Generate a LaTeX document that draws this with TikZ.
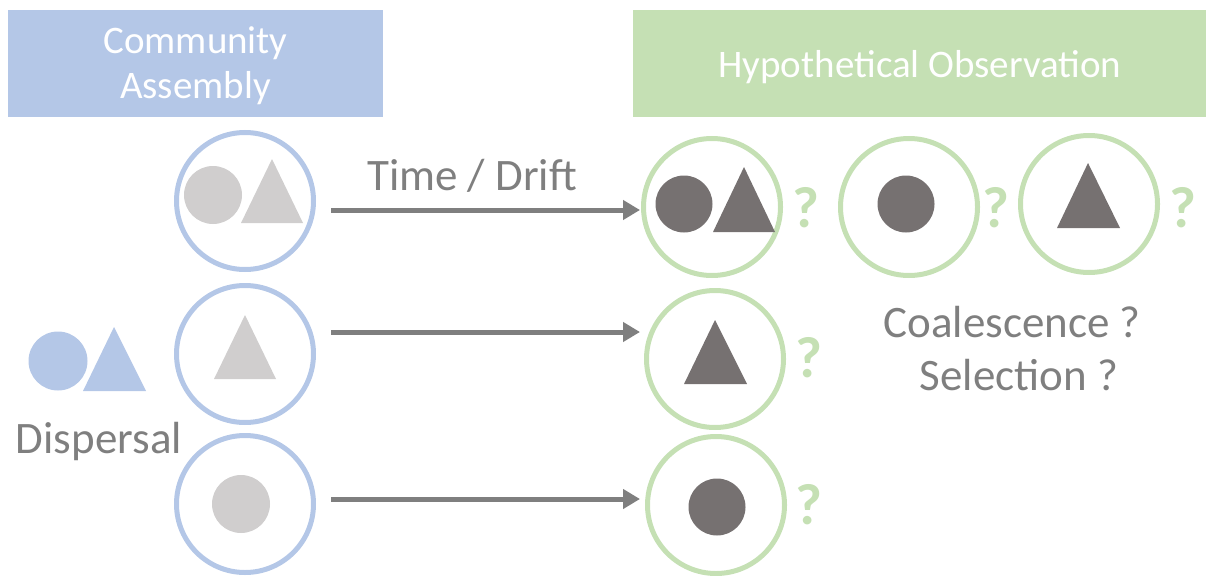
\documentclass[tikz,border=0pt]{standalone}
\usepackage{fontspec}
\setmainfont{Carlito}
\usetikzlibrary{arrows.meta}
\definecolor{cablue}{HTML}{B4C7E7}
\definecolor{cagreen}{HTML}{C5E0B4}
\definecolor{lgray}{HTML}{D0CECE}
\definecolor{dgray}{HTML}{767171}
\definecolor{tgray}{HTML}{7F7F7F}
\begin{document}
\begin{tikzpicture}[x=1pt,y=-1pt,
  bluering/.style={circle,draw=cablue,line width=5pt,minimum size=137pt,inner sep=0pt},
  greenring/.style={circle,draw=cagreen,line width=5pt,minimum size=137pt,inner sep=0pt},
  hbox/.style={minimum height=107pt,inner sep=0pt},
  header/.style={text=white,font=\fontsize{39}{45}\selectfont,align=center,inner sep=0pt},
  lbl/.style={text=tgray,font=\fontsize{45}{53}\selectfont,inner sep=0pt,anchor=base},
  qmark/.style={text=cagreen,font=\bfseries\fontsize{58}{58}\selectfont,inner sep=0pt},
  arr/.style={draw=tgray,line width=5pt,-{Triangle[length=17pt,width=19pt]}}
]
\useasboundingbox (0,0) rectangle (1206,575);

% header boxes
\node (hA) [hbox,fill=cablue,minimum width=375pt] at (195.5,63.5) {};
\node (hB) [hbox,fill=cagreen,minimum width=573pt] at (919.5,63.5) {};
\node (hAt) [header] at (195.5,66) {Community\\Assembly};
\node (hBt) [header,anchor=base] at (920,78) {Hypothetical Observation};

% community assembly rings
\node (b1) [bluering] at (245,201) {};
\node (b2) [bluering] at (245,354) {};
\node (b3) [bluering] at (245,504) {};

% observation rings
\node (g1) [greenring] at (712,207) {};
\node (g2) [greenring] at (909,207) {};
\node (g3) [greenring] at (1089,204) {};
\node (g4) [greenring] at (715,359) {};
\node (g5) [greenring] at (716,505) {};

% light shapes
\fill[lgray] (213,195) circle (29pt);
\fill[lgray] (241,223) -- (303,223) -- (272,159) -- cycle;
\fill[lgray] (214,379) -- (276,379) -- (245,315) -- cycle;
\fill[lgray] (241,504) circle (29pt);

% dispersal shapes
\fill[cablue] (58,361) circle (29.5pt);
\fill[cablue] (83,391) -- (146,391) -- (114,327) -- cycle;
\node (disp) [lbl] at (99,453) {Dispersal};

% dark shapes
\fill[dgray] (684,204) circle (28.5pt);
\fill[dgray] (713,232) -- (775,232) -- (744,167) -- cycle;
\fill[dgray] (906,204) circle (28.5pt);
\fill[dgray] (1057,228) -- (1120,228) -- (1088,163) -- cycle;
\fill[dgray] (684,384) -- (747,384) -- (715,320) -- cycle;
\fill[dgray] (717,507) circle (28.5pt);

% question marks
\node (q1) [qmark] at (806,208) {?};
\node (q2) [qmark] at (996,208) {?};
\node (q3) [qmark] at (1183,208) {?};
\node (q4) [qmark] at (809,358) {?};
\node (q5) [qmark] at (809,505) {?};

% arrows
\coordinate (s1) at (331,210);
\coordinate (t1) at (640,210);
\coordinate (s2) at (331,332);
\coordinate (t2) at (640,332);
\coordinate (s3) at (331,499);
\coordinate (t3) at (640,499);
\draw[arr] (s1) -- (t1);
\draw[arr] (s2) -- (t2);
\draw[arr] (s3) -- (t3);

% labels
\node (td) [lbl] at (472,190) {Time / Drift};
\node (co) [lbl] at (1012,337) {Coalescence ?};
\node (se) [lbl] at (1019,390) {Selection ?};
\end{tikzpicture}
\end{document}
